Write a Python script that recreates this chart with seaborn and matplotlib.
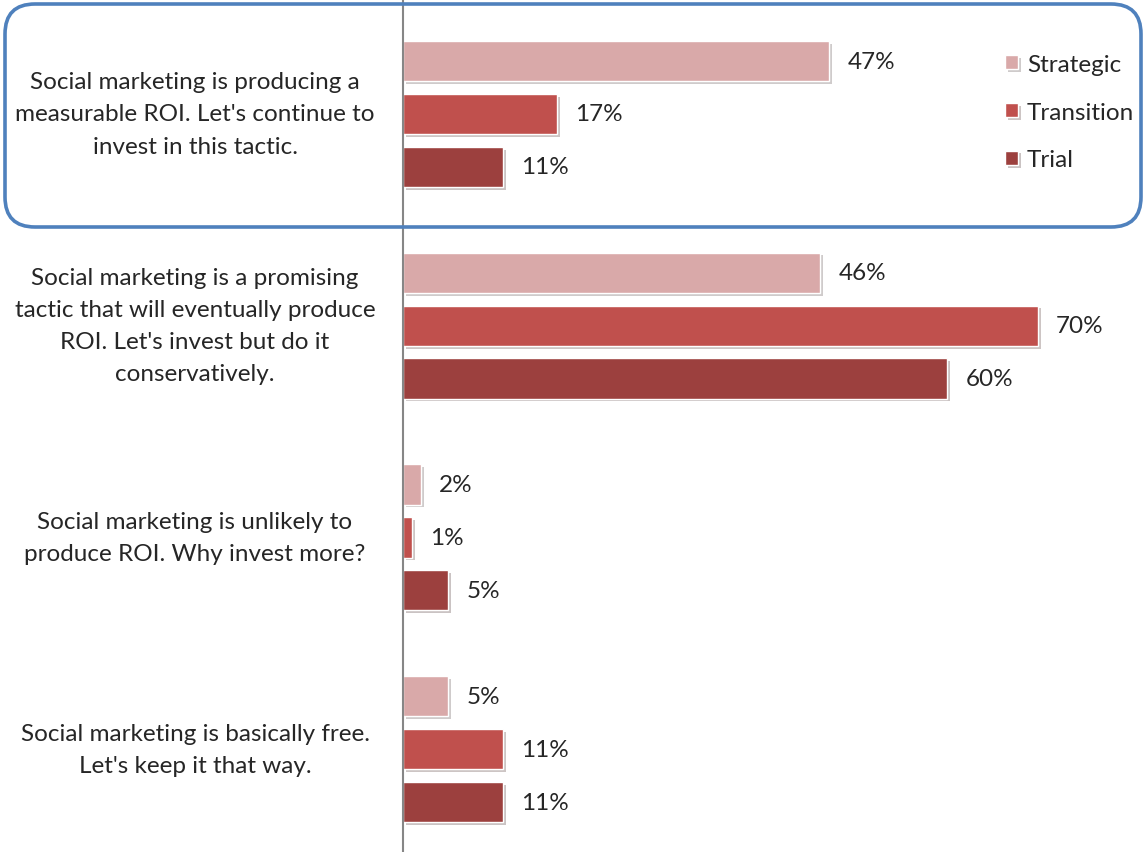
import numpy as np
import pandas as pd
import matplotlib
matplotlib.use('Agg')
import matplotlib.pyplot as plt
import matplotlib.patheffects as pe
from matplotlib.patches import FancyBboxPatch
from matplotlib.transforms import IdentityTransform, blended_transform_factory
import seaborn as sns

# dados
categorias = [
    "Social marketing is producing a\nmeasurable ROI. Let's continue to\ninvest in this tactic.",
    "Social marketing is a promising\ntactic that will eventually produce\nROI. Let's invest but do it\nconservatively.",
    "Social marketing is unlikely to\nproduce ROI. Why invest more?",
    "Social marketing is basically free.\nLet's keep it that way.",
]
series = ['Strategic', 'Transition', 'Trial']
strategic = [47, 46, 2, 5]
transition = [17, 70, 1, 11]
trial = [11, 60, 5, 11]
cores = ['#D9A9A9', '#C0504D', '#9C403E']

df = pd.DataFrame({
    'cat': categorias * 3,
    'serie': np.repeat(series, len(categorias)),
    'valor': strategic + transition + trial,
})

sns.set_style('white')
plt.rcParams['font.family'] = ['Lato', 'DejaVu Sans']
fs = 17.5

W, H = 1146, 853
fig = plt.figure(figsize=(W / 100, H / 100), dpi=100)
ax = fig.add_axes([403 / W, 0, (W - 403) / W, 1])

sns.barplot(data=df, y='cat', x='valor', hue='serie', hue_order=series,
            palette=cores, saturation=1, orient='h', width=0.75, gap=0.24, ax=ax,
            edgecolor='white', linewidth=1)

for p in ax.patches:
    p.set_path_effects([pe.SimplePatchShadow(offset=(2, -2), alpha=0.25), pe.Normal()])

for cont in ax.containers:
    ax.bar_label(cont, fmt='%d%%', padding=13, fontsize=fs)

ax.set_xlim(0, 81.9)
ax.set_ylim(3.486, -0.543)
ax.set_xlabel('')
ax.set_ylabel('')
ax.set_xticks([])
ax.set_yticks([])
for s in ['top', 'right', 'bottom']:
    ax.spines[s].set_visible(False)
ax.spines['left'].set_color('#868686')
ax.spines['left'].set_linewidth(1.5)

# rotulos das categorias
tr = blended_transform_factory(fig.transFigure, ax.transData)
for i, c in enumerate(categorias):
    ax.text(195 / W, i, c, transform=tr, ha='center', va='center',
            multialignment='center', fontsize=fs, linespacing=1.65, clip_on=False)

leg = ax.legend(loc='upper left', bbox_to_anchor=(983 / W, 1 - 33 / H),
                bbox_transform=fig.transFigure, frameon=False, fontsize=fs,
                handlelength=0.53, handleheight=0.53, handletextpad=0.37,
                labelspacing=1.1)

# destaque do primeiro grupo
caixa = FancyBboxPatch((5, H - 228), W - 10, 223,
                       boxstyle='round,pad=0,rounding_size=30',
                       transform=IdentityTransform(), fill=False,
                       edgecolor='#4F81BD', linewidth=2.6)
fig.add_artist(caixa)

fig.savefig('out.png', dpi=100)
